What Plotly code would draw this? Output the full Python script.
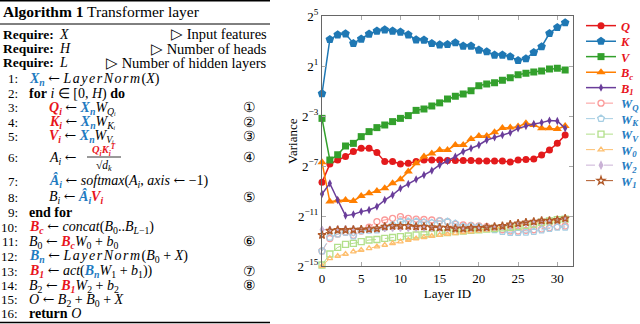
import plotly.graph_objects as go

W, H = 640, 324

# ---- data (log2 of variance) ----
layer_id = list(range(32))

q_var = [-8.31, -6.85, -6.52, -6.25, -5.85, -5.59, -5.59, -5.93, -6.65, -6.65, -6.84, -6.79,
         -6.65, -6.52, -6.52, -6.52, -6.57, -6.57, -6.57, -6.57, -6.6, -6.6, -6.6, -6.6,
         -6.68, -6.52, -6.49, -6.44, -6.12, -5.72, -5.19, -4.52]
k_var = [-1.21, 3.13, 3.5, 3.58, 2.81, 3.16, 3.56, 3.8, 3.9, 3.8, 3.72, 3.5,
         3.1, 3.08, 2.81, 2.7, 2.73, 2.87, 2.6, 2.6, 2.28, 2.15, 1.88, 1.88,
         1.75, 1.45, 1.59, 2.09, 2.55, 3.61, 4.09, 4.47]
v_var = [-3.19, -6.52, -6.1, -5.4, -5.19, -4.65, -4.25, -3.93, -3.72, -3.45, -3.19, -2.97,
         -2.55, -2.44, -2.2, -1.95, -1.64, -1.42, -1.24, -0.98, -0.58, -0.44, -0.34, -0.14,
         0.06, 0.30, 0.42, 0.52, 0.60, 0.76, 0.82, 0.68]
bc_var = [-6.71, -9.85, -9.77, -9.72, -9.8, -9.4, -9.19, -9.0, -8.79, -8.39, -8.07, -7.45,
          -6.79, -6.25, -6.0, -5.72, -5.72, -5.32, -5.32, -4.85, -4.6, -4.6, -4.3, -3.96,
          -3.93, -3.85, -3.59, -3.72, -3.99, -3.99, -4.04, -3.8]
b1_var = [-9.24, -8.39, -9.72, -10.97, -10.87, -10.65, -10.52, -10.25, -9.72, -9.32, -8.79, -8.44,
          -8.07, -7.72, -7.37, -6.92, -6.6, -6.25, -5.85, -5.59, -5.32, -4.92, -4.71, -4.52,
          -4.33, -3.99, -3.8, -3.64, -3.53, -3.37, -3.4, -3.99]
wq_var = [-13.8, -12.8, -12.45, -12.3, -12.55, -12.2, -11.9, -11.45, -11.32, -11.19, -11.05, -11.19,
          -11.25, -11.28, -11.32, -11.38, -11.45, -11.65, -11.72, -11.75, -11.8, -11.85, -11.95, -12.1,
          -12.2, -12.2, -12.15, -12.1, -12.05, -11.95, -11.85, -11.8]
wk_var = [-13.8, -12.7, -12.44, -12.3, -12.6, -12.18, -12.15, -12.12, -11.9, -11.72, -11.45, -11.45,
          -11.45, -11.5, -11.55, -11.4, -11.45, -11.6, -11.85, -11.8, -11.85, -11.95, -12.1, -12.25,
          -12.33, -12.33, -12.3, -12.25, -12.12, -12.0, -11.9, -11.9]
wv_var = [-14.92, -14.04, -13.51, -13.27, -13.19, -13.05, -12.92, -12.88, -12.79, -12.72, -12.65, -12.6,
          -12.52, -12.5, -12.45, -12.39, -12.33, -12.25, -12.2, -12.15, -12.1, -12.05, -12.0, -11.95,
          -11.9, -11.85, -11.75, -11.65, -11.5, -11.4, -11.3, -11.25]
w0_var = [-15.0, -14.39, -14.2, -14.04, -13.85, -13.72, -13.59, -13.45, -13.32, -13.19, -13.05, -12.92,
          -12.8, -12.7, -12.6, -12.52, -12.44, -12.38, -12.3, -12.25, -12.18, -12.1, -12.0, -11.9,
          -11.8, -11.72, -11.62, -11.52, -11.45, -11.38, -11.3, -11.25]
w2_var = [-12.1, -12.08, -12.06, -12.05, -12.05, -12.05, -12.03, -12.0, -11.98, -11.95, -11.95, -11.95,
          -11.95, -11.95, -11.95, -11.97, -11.98, -12.0, -12.0, -11.98, -11.95, -11.92, -11.88, -11.83,
          -11.75, -11.65, -11.58, -11.5, -11.45, -11.4, -11.35, -11.25]
w1_var = [-12.52, -12.18, -12.12, -12.12, -12.1, -12.07, -12.05, -12.0, -11.85, -11.8, -11.8, -11.8,
          -11.85, -11.85, -11.9, -11.92, -11.93, -12.0, -12.0, -11.95, -11.95, -11.9, -11.85, -11.8,
          -11.67, -11.59, -11.51, -11.45, -11.37, -11.37, -11.32, -11.19]

y_exps = [-15, -11, -7, -3, 1, 5]
x_ticks = [0, 5, 10, 15, 20, 25, 30]

RED = "#e8141c"
BLUE = "#1f7bc1"
FONT = "Liberation Serif"
ARR = "<span style='font-family:DejaVu Serif'>\u2190</span>"
LN = "<i><span style='letter-spacing:1.5px'>LayerNorm</span></i>"


def red(s, sub=""):
    sub = f"<sub>{sub}</sub>" if sub else ""
    return f"<span style='color:{RED}'><b><i>{s}{sub}</i></b></span>"


def blue(s, sub=""):
    sub = f"<sub>{sub}</sub>" if sub else ""
    return f"<span style='color:{BLUE}'><b><i>{s}{sub}</i></b></span>"


series = [
    # name, data, color, marker, size, dashed
    (red("Q"), q_var, "#e31a1c", "circle", 7, False),
    (red("K"), k_var, "#1f78b4", "pentagon", 9, False),
    (red("V"), v_var, "#33a02c", "square", 7, False),
    (red("B", "c"), bc_var, "#ff7f00", "triangle-up", 8, False),
    (red("B", "1"), b1_var, "#6a3d9a", "diamond-tall", 6, False),
    (blue("W", "Q"), wq_var, "#fb9a99", "circle-open", 6, True),
    (blue("W", "K"), wk_var, "#a6cee3", "pentagon-open", 7, True),
    (blue("W", "V"), wv_var, "#b2df8a", "square-open", 6, True),
    (blue("W", "0"), w0_var, "#fdbf6f", "triangle-up-open", 5, True),
    (blue("W", "2"), w2_var, "#cab2d6", "diamond-tall", 5, True),
    (blue("W", "1"), w1_var, "#b15928", "star-open", 6, True),
]


def px(x):
    return x / W


def py(y):
    return 1 - y / H


fig = go.Figure()
legends = {}
for k, (name, vals, color, sym, size, dashed) in enumerate(series):
    lg = "legend" if k == 0 else f"legend{k + 1}"
    fig.add_trace(go.Scatter(
        x=layer_id, y=[2.0 ** v for v in vals], name=name, mode="lines+markers",
        line=dict(color=color, width=1 if dashed else 1.5, dash="dash" if dashed else "solid"),
        marker=dict(symbol=sym, size=size, color=color,
                    line=dict(color=color, width=1.3 if dashed else 0)),
        cliponaxis=False, legend=lg,
    ))
    # one single-entry legend per trace so the rows can sit 15.5 px apart
    legends[lg] = dict(x=px(581), y=py(26 + 15.5 * k), xanchor="left", yanchor="middle",
                       font=dict(family=FONT, size=12.5), itemwidth=30,
                       bgcolor="rgba(0,0,0,0)")

fig.update_layout(
    width=W, height=H, margin=dict(l=0, r=0, t=0, b=0, autoexpand=False),
    paper_bgcolor="white", plot_bgcolor="white",
    font=dict(family=FONT, size=13, color="black"),
    showlegend=True,
    **legends,
)

fig.update_xaxes(
    domain=[px(322), px(573)], range=[0, 32], tickvals=x_ticks,
    showline=True, linecolor="#666", linewidth=1.2, mirror="ticks",
    ticks="inside", ticklen=4, tickcolor="#aaa", showgrid=False, zeroline=False,
    tickfont=dict(family=FONT, size=13),
    title=dict(text="Layer ID", font=dict(family=FONT, size=13), standoff=0),
)
fig.update_yaxes(
    domain=[1 - 266 / H, 1 - 16 / H], type="log",
    range=[-15 * 0.30103, 5 * 0.30103],
    tickvals=[2.0 ** e for e in y_exps],
    ticktext=[f"2<sup>{e}</sup>".replace("-", "\u2212") for e in y_exps],
    showline=True, linecolor="#666", linewidth=1.2, mirror="ticks",
    ticks="inside", ticklen=4, tickcolor="#aaa", showgrid=False, zeroline=False,
    tickfont=dict(family=FONT, size=13),
)

ann = []


def text(x, y, s, anchor="left", size=14, color="black"):
    ann.append(dict(x=px(x), y=py(y), xref="paper", yref="paper", text=s,
                    xanchor=anchor, yanchor="middle", showarrow=False,
                    font=dict(family=FONT, size=size, color=color)))


# y-axis title
ann.append(dict(x=px(293), y=py(141), xref="paper", yref="paper", text="Variance",
                textangle=-90, showarrow=False, font=dict(family=FONT, size=13)))

# ---- algorithm box ----
text(1, 12, "<b>Algorithm 1</b> Transformer layer", size=15.5)
for y, v, c in [(34, "X", "Input features"), (48.5, "H", "Number of heads"),
                (63, "L", "Number of hidden layers")]:
    text(1, y, "<b>Require:</b>", size=13.5)
    text(57, y, f"<i>{v}</i>")
    text(269, y, f"\u25b7 {c}", anchor="right", size=14.5)

rows = [
    (79, "1:", 27, f"{blue('X', 'n')} {ARR} {LN}(<i>X</i>)", ""),
    (93.5, "2:", 27, "<b>for</b> <i>i</i> \u2208 [0, <i>H</i>) <b>do</b>", ""),
    (108, "3:", 47, f"{red('Q', 'i')} {ARR} {blue('X', 'n')}<i>W</i><sub><i>Q\u1d62</i></sub>", "\u2460"),
    (122, "4:", 47, f"{red('K', 'i')} {ARR} {blue('X', 'n')}<i>W</i><sub><i>K\u1d62</i></sub>", "\u2461"),
    (136, "5:", 47, f"{red('V', 'i')} {ARR} {blue('X', 'n')}<i>W</i><sub><i>V\u1d62</i></sub>", "\u2462"),
    (158, "6:", 47, f"<i>A<sub>i</sub></i> {ARR}", "\u2463"),
    (181, "7:", 47, f"{blue('\u00c2', 'i')} {ARR} <i>softmax</i>(<i>A<sub>i</sub></i>, <i>axis</i> {ARR} \u22121)", ""),
    (197, "8:", 47, f"<i>B<sub>i</sub></i> {ARR} {blue('\u00c2', 'i')}{red('V', 'i')}", "\u2464"),
    (212, "9:", 27, "<b>end for</b>", ""),
    (227, "10:", 27, f"{red('B', 'c')} {ARR} <i>concat</i>(<i>B</i><sub>0</sub>..<i>B</i><sub><i>L</i>\u22121</sub>)", ""),
    (241.5, "11:", 27, f"<i>B</i><sub>0</sub> {ARR} {red('B', 'c')}<i>W</i><sub>0</sub> + <i>b</i><sub>0</sub>", "\u2465"),
    (256, "12:", 27, f"{blue('B', 'n')} {ARR} {LN}(<i>B</i><sub>0</sub> + <i>X</i>)", ""),
    (271, "13:", 27, f"{red('B', '1')} {ARR} <i>act</i>({blue('B', 'n')}<i>W</i><sub>1</sub> + <i>b</i><sub>1</sub>))", "\u2466"),
    (285.5, "14:", 27, f"<i>B</i><sub>2</sub> {ARR} {red('B', '1')}<i>W</i><sub>2</sub> + <i>b</i><sub>2</sub>", "\u2467"),
    (299.5, "15:", 27, f"<i>O</i> {ARR} <i>B</i><sub>2</sub> + <i>B</i><sub>0</sub> + <i>X</i>", ""),
    (313.5, "16:", 27, "<b>return</b> <i>O</i>", ""),
]
for y, num, xi, s, circ in rows:
    text(20, y, num, anchor="right", size=13)
    text(xi, y, s)
    if circ:
        text(249, y, circ, anchor="center", size=14)

# fraction on line 6
text(104, 150, f"<span style='color:{RED}'><b><i>Q<sub>i</sub>K<sub>i</sub><sup>T</sup></i></b></span>",
     anchor="center", size=10.5)
text(104, 166, "\u221a<i>d<sub>k</sub></i>", anchor="center", size=11.5)

fig.update_layout(annotations=ann)

shapes = [
    dict(type="line", xref="paper", yref="paper", x0=0, x1=px(270), y0=py(0.8), y1=py(0.8),
         line=dict(color="black", width=1.6)),
    dict(type="line", xref="paper", yref="paper", x0=0, x1=px(270), y0=py(24), y1=py(24),
         line=dict(color="black", width=1)),
    dict(type="line", xref="paper", yref="paper", x0=0, x1=px(270), y0=py(322.5), y1=py(322.5),
         line=dict(color="black", width=1.6)),
    dict(type="line", xref="paper", yref="paper", x0=px(87), x1=px(121), y0=py(157), y1=py(157),
         line=dict(color="black", width=0.8)),
]
fig.update_layout(shapes=shapes)

# the page's default 8px body margin would push the figure off the window
fig.write_html("out.html", config={"displayModeBar": False},
               post_script="document.body.style.margin='0';")
